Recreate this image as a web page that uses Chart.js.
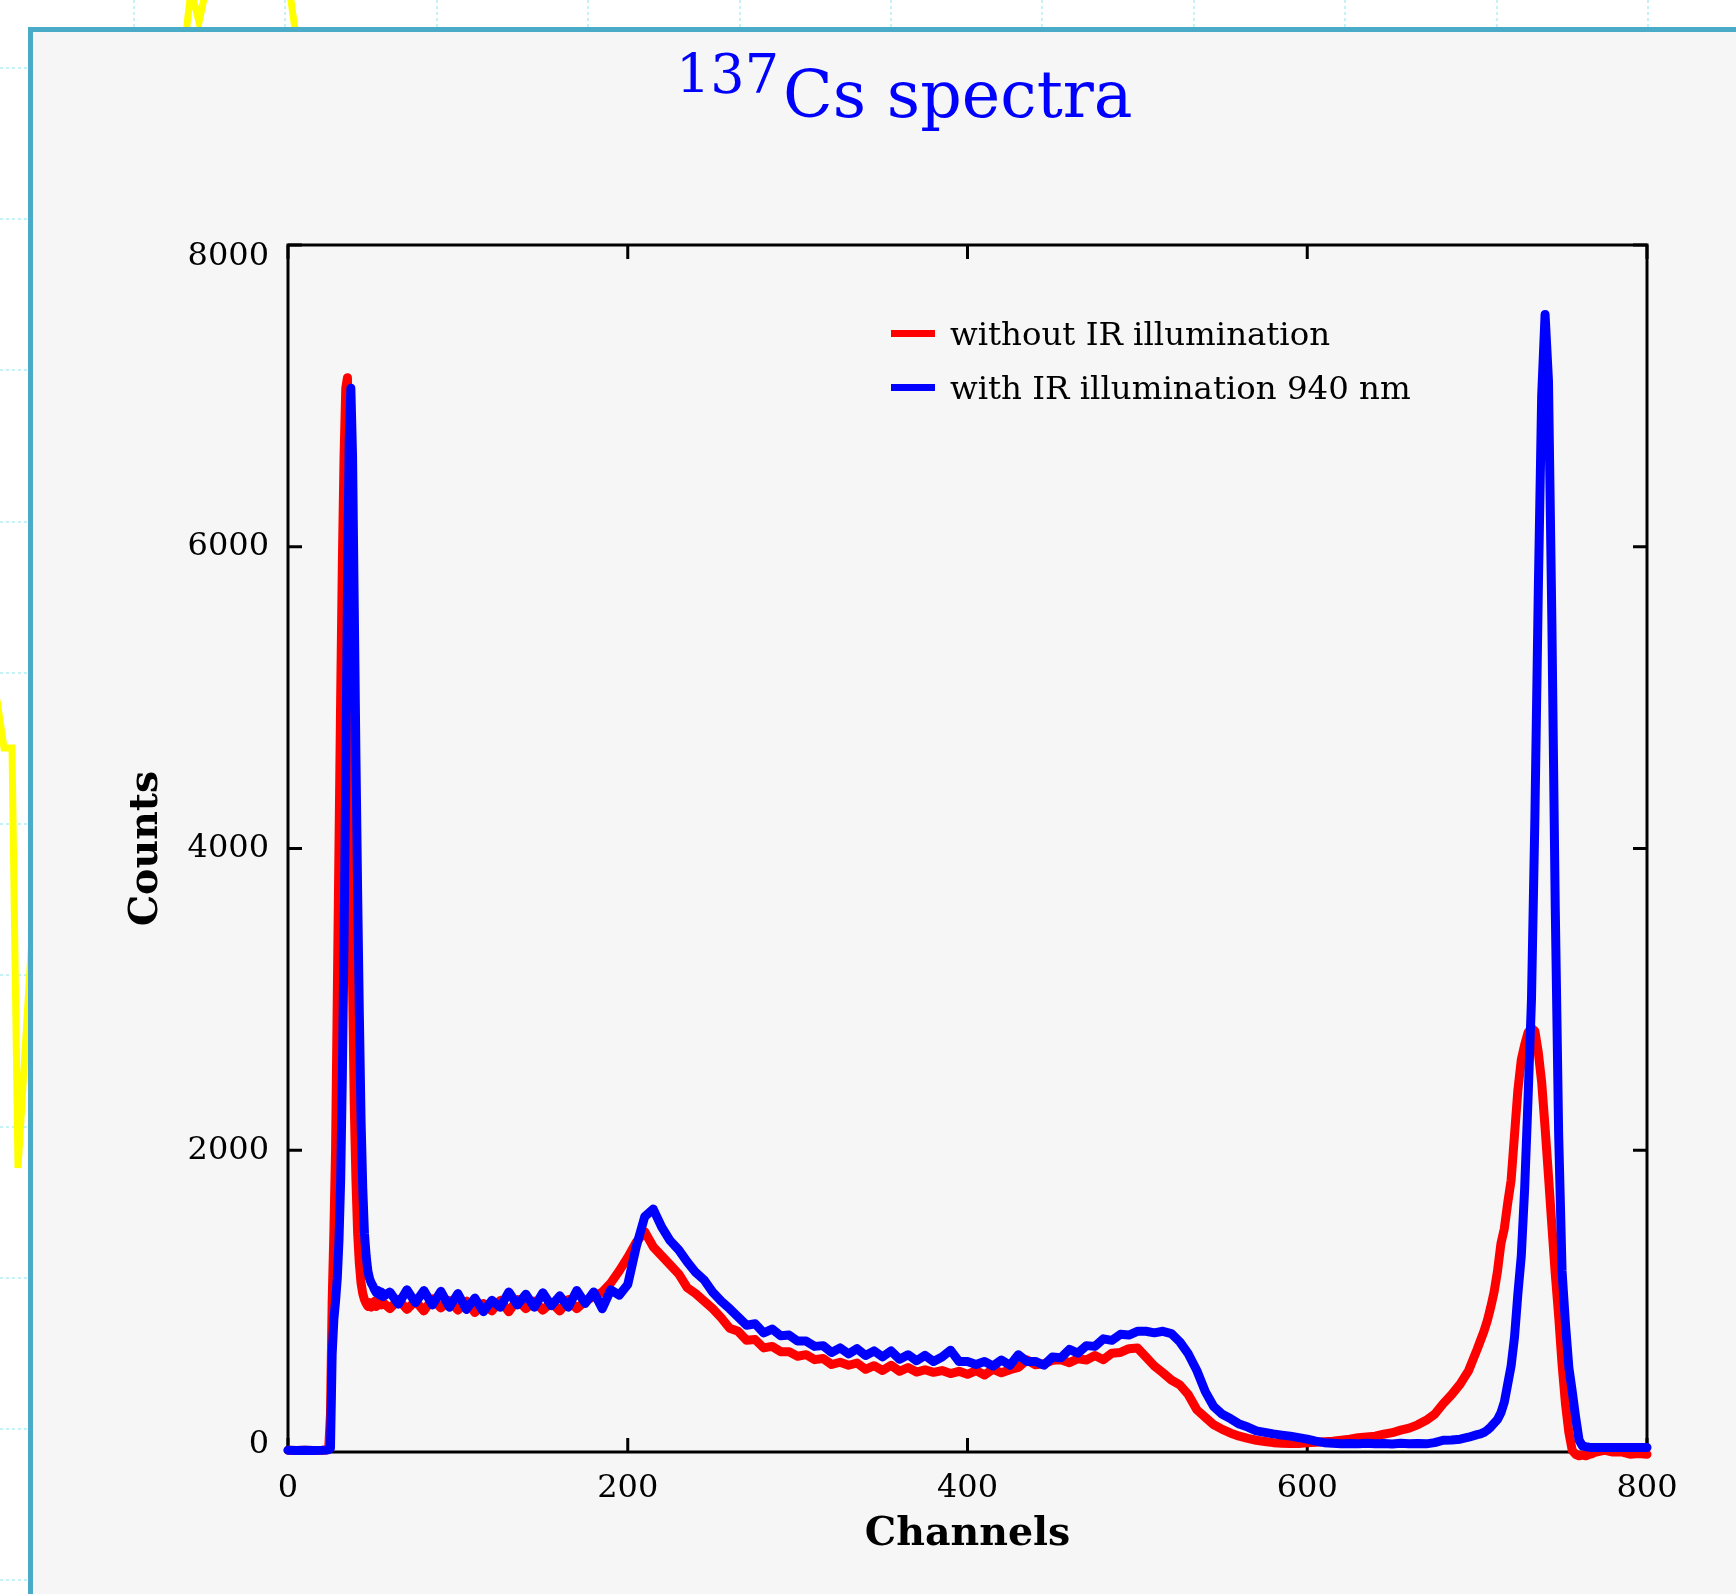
<!DOCTYPE html>
<html>
<head>
<meta charset="utf-8">
<title>137Cs spectra</title>
<script src="https://cdn.jsdelivr.net/npm/chart.js@4.4.0/dist/chart.umd.min.js"></script>
<style>
  html, body { margin: 0; padding: 0; background: #fff; }
  body { width: 1736px; height: 1594px; position: relative; overflow: hidden; }
  #bg { position: absolute; left: 0; top: 0; }
  #panel { position: absolute; left: 28px; top: 27px; width: 1760px; height: 1620px;
           border: 5px solid #4aabc8; background: #f6f6f6; }
  #spectra { position: absolute; left: 33px; top: 32px; }
</style>
</head>
<body>
<canvas id="bg" width="1736" height="1594"></canvas>
<div id="panel"></div>
<canvas id="spectra" width="1703" height="1562"></canvas>
<script>
// channel grid (denser around the peaks)
const channels = [
  0, 5, 10, 15, 20, 23,
  24, 25, 26, 27, 28, 29, 30, 31, 32, 33, 34, 35, 36, 37, 38, 39, 40,
  41, 42, 43, 44, 45, 46, 47, 48, 49, 50, 51, 52, 53, 54, 55, 56,
  60, 65, 70, 75, 80, 85, 90, 95, 100,
  105, 110, 115, 120, 125, 130, 135, 140, 145, 150,
  155, 160, 165, 170, 175, 180, 185, 190, 195, 200,
  205, 210, 215, 220, 225, 230, 235, 240, 245, 250,
  255, 260, 265, 270, 275, 280, 285, 290, 295, 300,
  305, 310, 315, 320, 325, 330, 335, 340, 345, 350,
  355, 360, 365, 370, 375, 380, 385, 390, 395, 400,
  405, 410, 415, 420, 425, 430, 435, 440, 445, 450,
  455, 460, 465, 470, 475, 480, 485, 490, 495, 500,
  505, 510, 515, 520, 525, 530, 535, 540, 545, 550,
  555, 560, 565, 570, 575, 580, 585, 590, 595, 600,
  605, 610, 615, 620, 625, 630, 635, 640, 645, 650,
  655, 660, 665, 670, 675, 680, 685, 690, 695, 700,
  702, 704, 706, 708, 710, 712, 714, 716, 718, 720,
  722, 724, 726, 728, 730, 732, 734, 736, 738, 740,
  742, 744, 746, 748, 750, 752, 754, 756, 758, 760,
  762, 764, 766, 768, 770, 772, 774, 776, 778, 780,
  785, 790, 795, 800
];

// without IR illumination
const countsNoIR = [
  12, 10, 12, 10, 12, 14,
  30, 250, 1000, 1450, 2000, 3000, 4000, 5000, 5900, 6600, 7050, 7120, 6300, 4600, 3100, 2300, 1800,
  1450, 1250, 1120, 1050, 1010, 985, 965, 990, 960, 975, 1000, 965, 990, 1005, 975, 990,
  950, 1010, 945, 1000, 935, 1015, 955, 1005, 940,
  1000, 925, 985, 935, 1005, 930, 1010, 950, 1000, 940,
  990, 935, 1010, 950, 1000, 1030, 1060, 1120, 1200, 1290,
  1390, 1460, 1360, 1300, 1240, 1180, 1090, 1050, 1000, 950,
  890, 820, 800, 740, 745, 690, 700, 665, 665, 635,
  645, 612, 620, 580, 595, 575, 590, 548, 572, 540,
  575, 535, 560, 530, 545, 528, 540, 520, 535, 515,
  540, 510, 550, 525, 545, 560, 610, 578, 585, 608,
  612, 592, 618, 610, 640, 612, 655, 660, 685, 690,
  630, 570, 525, 477, 445, 380, 280, 230, 180, 150,
  125, 105, 90, 78, 70, 62, 58, 56, 57, 62,
  65, 68, 72, 78, 85, 95, 100, 105, 118, 128,
  145, 158, 180, 210, 250, 320, 380, 450, 540, 680,
  740, 800, 870, 960, 1060, 1200, 1380, 1480, 1650, 1800,
  2100, 2400, 2600, 2700, 2780, 2810, 2790, 2650, 2450, 2150,
  1830, 1500, 1180, 900, 580, 320, 130, 10, -15, -25,
  -20, -25, -15, -10, 0, 5, 10, 10, 5, 0,
  0, -15, -10, -15
];

// with IR illumination 940 nm
const countsIR = [
  12, 10, 12, 10, 12, 14,
  15, 25, 650, 880, 1000, 1150, 1400, 1800, 2500, 3400, 4500, 5700, 6700, 7050, 6600, 5600, 4600,
  3700, 2900, 2200, 1750, 1450, 1300, 1200, 1150, 1120, 1100, 1075, 1055, 1070, 1040, 1060, 1030,
  1060, 980, 1075, 990, 1070, 975, 1065, 960, 1050,
  945, 1020, 930, 1005, 960, 1060, 975, 1045, 960, 1055,
  970, 1035, 960, 1070, 985, 1060, 950, 1075, 1040, 1110,
  1360, 1560, 1610, 1490, 1400, 1340, 1260, 1190, 1140, 1060,
  1000, 950, 895, 840, 850, 790, 815, 770, 775, 735,
  735, 700, 705, 660, 690, 650, 685, 640, 670, 630,
  670, 615, 645, 605, 640, 600, 630, 675, 600, 600,
  580, 600, 570, 610, 575, 645, 600, 600, 575, 630,
  625, 680, 655, 705, 700, 750, 740, 780, 775, 800,
  800, 790, 800, 785, 730, 650, 540, 400, 300, 250,
  220, 185, 165, 140, 130, 120, 112, 105, 95, 85,
  72, 62, 58, 55, 57, 54, 58, 55, 56, 53,
  58, 55, 57, 54, 62, 78, 80, 85, 98, 115,
  120, 130, 145, 165, 190, 215, 260, 330, 450, 570,
  760, 1050, 1300, 1750, 2350, 3000, 4200, 5700, 7000, 7540,
  7100, 5500, 3600, 2100, 1200, 850, 560, 400, 230, 80,
  40, 35, 32, 30, 30, 30, 30, 30, 30, 30,
  30, 30, 30, 30
];

const seriesLabels = ['without IR illumination', 'with IR illumination 940 nm'];
const xTicks = [0, 200, 400, 600, 800];
const yTicks = [0, 2000, 4000, 6000, 8000];

// the chart behind the panel (only its edges show)
const bgGridX = [134, 285, 437, 588, 740, 891, 1042, 1194, 1345, 1497, 1648];
const bgGridY = [68, 219, 370, 522, 673, 824, 975, 1127, 1278, 1429, 1580];
const bgLineX = [-30, -3, 4, 12, 18, 45, 120, 183, 191, 199, 207, 240, 288, 298, 340];
const bgLineY = [620, 700, 748, 748, 1168, 720, 300, 60, -10, 22, -15, -80, -20, 50, 300];

const SERIF = "'DejaVu Serif', 'Liberation Serif', serif";

new Chart(document.getElementById('bg'), {
  type: 'line',
  data: {
    datasets: [{
      data: bgLineX.map((x, i) => ({ x: x, y: bgLineY[i] })),
      borderColor: '#ffff00',
      borderWidth: 7,
      pointRadius: 0,
      tension: 0
    }]
  },
  options: {
    responsive: false,
    animation: false,
    events: [],
    layout: { padding: 0 },
    plugins: { legend: { display: false }, tooltip: { enabled: false } },
    scales: {
      x: {
        type: 'linear', min: 0, max: 1736,
        afterBuildTicks: a => { a.ticks = bgGridX.map(v => ({ value: v })); },
        afterFit: a => { a.height = 0; },
        ticks: { display: false },
        grid: { color: '#c4f3f7', lineWidth: 2, drawTicks: false },
        border: { display: false, dash: [3, 3] }
      },
      y: {
        type: 'linear', min: 0, max: 1594, reverse: true,
        afterBuildTicks: a => { a.ticks = bgGridY.map(v => ({ value: v })); },
        afterFit: a => { a.width = 0; },
        ticks: { display: false },
        grid: { color: '#c4f3f7', lineWidth: 2, drawTicks: false },
        border: { display: false, dash: [3, 3] }
      }
    }
  }
});

// box around the plot with inward ticks on all sides
const frameTicks = {
  id: 'frameTicks',
  beforeDatasetsDraw(chart, args, opts) {
    const { ctx, chartArea: a, scales: { x, y } } = chart;
    ctx.save();
    ctx.strokeStyle = opts.color;
    ctx.lineWidth = opts.width;
    ctx.strokeRect(a.left, a.top, a.right - a.left, a.bottom - a.top);
    ctx.beginPath();
    x.ticks.forEach(t => {
      const px = x.getPixelForValue(t.value);
      ctx.moveTo(px, a.bottom); ctx.lineTo(px, a.bottom - opts.length);
      ctx.moveTo(px, a.top); ctx.lineTo(px, a.top + opts.length);
    });
    y.ticks.forEach(t => {
      const py = y.getPixelForValue(t.value);
      ctx.moveTo(a.left, py); ctx.lineTo(a.left + opts.length, py);
      ctx.moveTo(a.right, py); ctx.lineTo(a.right - opts.length, py);
    });
    ctx.stroke();
    ctx.restore();
  }
};

// legend sitting inside the plot, top right
const cornerLegend = {
  id: 'cornerLegend',
  afterDatasetsDraw(chart, args, opts) {
    const { ctx } = chart;
    ctx.save();
    ctx.font = opts.font;
    ctx.fillStyle = '#000';
    ctx.textBaseline = 'alphabetic';
    ctx.lineCap = 'butt';
    opts.order.forEach((di, row) => {
      const ds = chart.data.datasets[di];
      const y = opts.top + row * opts.rowGap;
      ctx.strokeStyle = ds.borderColor;
      ctx.lineWidth = opts.lineWidth;
      ctx.beginPath();
      ctx.moveTo(opts.left, y);
      ctx.lineTo(opts.left + opts.sample, y);
      ctx.stroke();
      ctx.fillText(ds.label, opts.left + opts.sample + opts.gap, y + opts.baselineShift);
    });
    ctx.restore();
  }
};

// title with the mass number raised
const isotopeTitle = {
  id: 'isotopeTitle',
  afterDraw(chart, args, opts) {
    const { ctx } = chart;
    ctx.save();
    ctx.fillStyle = opts.color;
    ctx.textBaseline = 'alphabetic';
    ctx.font = opts.supSize + 'px ' + SERIF;
    ctx.fillText(opts.mass, opts.x, opts.supBaseline);
    const w = ctx.measureText(opts.mass).width;
    ctx.font = opts.size + 'px ' + SERIF;
    ctx.fillText(opts.text, opts.x + w + opts.gap, opts.baseline);
    ctx.restore();
  }
};

// top and bottom y labels sit a little inside the box, as in the original
const yLabelShift = { 8000: 12, 0: -7 };

new Chart(document.getElementById('spectra'), {
  type: 'line',
  data: {
    datasets: [
      {
        label: seriesLabels[0],
        data: channels.map((c, i) => ({ x: c, y: countsNoIR[i] })),
        borderColor: '#ff0000',
        borderWidth: 9,
        pointRadius: 0,
        tension: 0,
        borderJoinStyle: 'round',
        borderCapStyle: 'round',
        clip: false,
        order: 1
      },
      {
        label: seriesLabels[1],
        data: channels.map((c, i) => ({ x: c, y: countsIR[i] })),
        borderColor: '#0000ff',
        borderWidth: 9,
        pointRadius: 0,
        tension: 0,
        borderJoinStyle: 'round',
        borderCapStyle: 'round',
        clip: false,
        order: 0
      }
    ]
  },
  options: {
    responsive: false,
    animation: false,
    events: [],
    layout: { padding: { top: 213, right: 89, left: 0, bottom: 0 } },
    plugins: {
      legend: { display: false },
      tooltip: { enabled: false },
      title: { display: false },
      frameTicks: { color: '#000', width: 3, length: 14 },
      cornerLegend: {
        order: [0, 1], font: '32.4px ' + SERIF,
        left: 858, top: 301.5, rowGap: 54, sample: 44, gap: 15,
        lineWidth: 7, baselineShift: 11.5
      },
      isotopeTitle: {
        mass: '137', text: 'Cs spectra', color: '#0000ff',
        x: 643, supBaseline: 61, baseline: 85, supSize: 54, size: 65, gap: 4
      }
    },
    scales: {
      x: {
        type: 'linear', min: 0, max: 800,
        afterBuildTicks: a => { a.ticks = xTicks.map(v => ({ value: v })); },
        afterFit: a => { a.height = 142; },
        ticks: {
          font: { family: SERIF, size: 32 }, color: '#000', padding: 17, maxRotation: 0,
          callback: v => String(v)
        },
        grid: { display: false, drawTicks: false },
        border: { display: false },
        title: {
          display: true, text: 'Channels', color: '#000',
          font: { family: SERIF, size: 39.5, weight: 'bold' },
          padding: { top: 0, bottom: 36 }
        }
      },
      y: {
        type: 'linear', min: 0, max: 8000,
        afterBuildTicks: a => { a.ticks = yTicks.map(v => ({ value: v })); },
        afterFit: a => { a.width = 255; },
        ticks: {
          color: '#000', padding: 19,
          font: ctx => {
            const s = yLabelShift[ctx.tick && ctx.tick.value];
            return { family: SERIF, size: 32, lineHeight: s ? (2 * Math.abs(s)) + 'px' : 1.2 };
          },
          callback: v => {
            const s = yLabelShift[v];
            if (!s) return String(v);
            return s > 0 ? ['', String(v)] : [String(v), ''];
          }
        },
        grid: { display: false, drawTicks: false },
        border: { display: false },
        title: {
          display: true, text: 'Counts', color: '#000',
          font: { family: SERIF, size: 39.5, weight: 'bold' },
          padding: { top: 90, bottom: 0 }
        }
      }
    }
  },
  plugins: [frameTicks, cornerLegend, isotopeTitle]
});
</script>
</body>
</html>
